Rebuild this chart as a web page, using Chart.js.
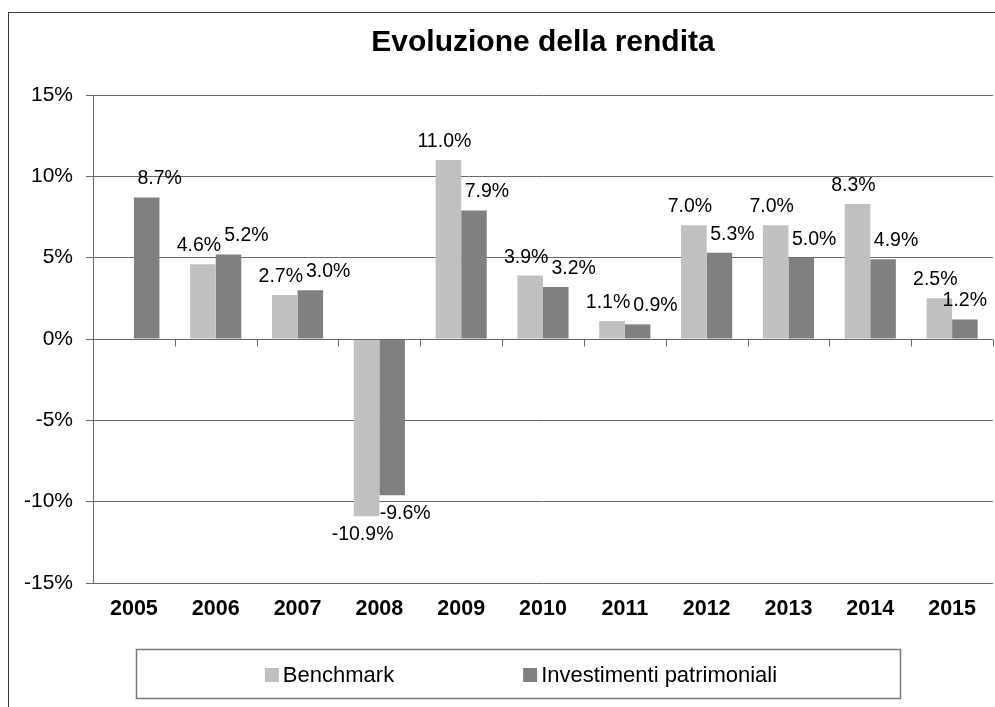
<!DOCTYPE html>
<html><head><meta charset="utf-8">
<script src="https://cdn.jsdelivr.net/npm/chart.js@4.4.0/dist/chart.umd.min.js"></script>
<style>html,body{margin:0;padding:0;background:#fff}#wrap{width:995px;height:707px;position:relative}</style>
</head><body><div id="wrap"><canvas id="c" width="995" height="707"></canvas></div>
<script>
const categories = ['2005','2006','2007','2008','2009','2010','2011','2012','2013','2014','2015'];
const benchmark = [null, 4.6, 2.7, -10.9, 11.0, 3.9, 1.1, 7.0, 7.0, 8.3, 2.5];
const investimenti = [8.7, 5.2, 3.0, -9.6, 7.9, 3.2, 0.9, 5.3, 5.0, 4.9, 1.2];
const yTicks = [-15, -10, -5, 0, 5, 10, 15];
const seriesNames = ['Benchmark', 'Investimenti patrimoniali'];
const chartTitle = 'Evoluzione della rendita';

const FONT = "'Liberation Sans', Arial, Helvetica, sans-serif";
const GRID = '#6a6a6a';

const decor = {
  id: 'decor',
  beforeDraw(chart) {
    const ctx = chart.ctx;
    ctx.save();
    ctx.fillStyle = '#fff';
    ctx.fillRect(0, 0, chart.width, chart.height);
    ctx.strokeStyle = '#3a3a3a';
    ctx.lineWidth = 1;
    ctx.strokeRect(8.5, 12.5, chart.width + 10, chart.height + 10);
    ctx.restore();
  },
  afterDatasetsDraw(chart) {
    const ctx = chart.ctx;
    const xs = chart.scales.x, ys = chart.scales.y;
    const y0 = Math.round(ys.getPixelForValue(0)) + 0.5;
    ctx.save();
    ctx.strokeStyle = GRID;
    ctx.lineWidth = 1;
    const n = categories.length;
    for (let i = 0; i <= n; i++) {
      let x;
      if (i === 0) x = chart.chartArea.left;
      else if (i === n) x = chart.chartArea.right;
      else x = (xs.getPixelForValue(i - 1) + xs.getPixelForValue(i)) / 2;
      x = Math.round(x) + 0.5;
      ctx.beginPath();
      ctx.moveTo(x, y0);
      ctx.lineTo(x, y0 + 7);
      ctx.stroke();
    }
    ctx.beginPath();
    ctx.moveTo(chart.chartArea.left, y0);
    ctx.lineTo(chart.chartArea.right, y0);
    ctx.stroke();

    // data labels with simple overlap avoidance per category
    ctx.font = '19.5px ' + FONT;
    ctx.fillStyle = '#000';
    ctx.textAlign = 'center';
    ctx.textBaseline = 'alphabetic';
    const dxs = [-4, 13];
    const capH = 14;
    const prevBox = {};
    chart.data.datasets.forEach((ds, di) => {
      const meta = chart.getDatasetMeta(di);
      meta.data.forEach((el, i) => {
        const v = ds.data[i];
        if (v === null || v === undefined) return;
        const txt = v.toFixed(1) + '%';
        const w = ctx.measureText(txt).width;
        let x = el.x + dxs[di];
        const y = v >= 0 ? el.y - 13 : el.y + 24;
        const pb = prevBox[i];
        if (pb) {
          const vOverlap = !(y < pb.top || y - capH > pb.bottom);
          if (vOverlap && x - w / 2 < pb.right + 3) x = pb.right + 3 + w / 2;
        }
        x = Math.min(x, chart.width - 8 - w / 2);
        ctx.fillText(txt, x, y);
        prevBox[i] = { right: x + w / 2, top: y - capH, bottom: y };
      });
    });
    ctx.restore();
  },
  afterDraw(chart) {
    const ctx = chart.ctx;
    ctx.save();
    const bx = 136, by = 649, bw = 764, bh = 49;
    ctx.strokeStyle = '#7a7a7a';
    ctx.lineWidth = 1.5;
    ctx.strokeRect(bx + 0.5, by + 0.5, bw, bh);
    ctx.font = '22px ' + FONT;
    const sq = 14, gapT = 4, gapItem = 129;
    const widths = chart.data.datasets.map(ds => sq + gapT + ctx.measureText(ds.label).width);
    const total = widths.reduce((a, b) => a + b, 0) + gapItem * (widths.length - 1);
    let x = bx + bw / 2 - total / 2 + 3;
    const base = by + 33;
    ctx.textBaseline = 'alphabetic';
    ctx.textAlign = 'left';
    chart.data.datasets.forEach((ds, i) => {
      ctx.fillStyle = ds.backgroundColor;
      ctx.fillRect(x, base - 14, sq, sq);
      ctx.fillStyle = '#000';
      ctx.fillText(ds.label, x + sq + gapT, base);
      x += widths[i] + gapItem;
    });
    ctx.restore();
  }
};

new Chart(document.getElementById('c'), {
  type: 'bar',
  data: {
    labels: categories,
    datasets: [
      { label: seriesNames[0], data: benchmark, backgroundColor: '#c0c0c0', borderWidth: 0 },
      { label: seriesNames[1], data: investimenti, backgroundColor: '#808080', borderWidth: 0 }
    ]
  },
  options: {
    responsive: false,
    animation: false,
    events: [],
    layout: { padding: { left: 8, right: 2, top: 0, bottom: 79 } },
    datasets: { bar: { categoryPercentage: 0.625, barPercentage: 1.0 } },
    plugins: {
      legend: { display: false },
      tooltip: { enabled: false },
      title: {
        display: true,
        text: chartTitle,
        fullSize: false,
        color: '#000',
        font: { family: FONT, size: 30, weight: 'bold', lineHeight: 1.2 },
        padding: { top: 25, bottom: 34 }
      }
    },
    scales: {
      x: {
        grid: { display: false, drawTicks: false },
        border: { display: false },
        ticks: { color: '#000', font: { family: FONT, size: 21.5, weight: 'bold' }, padding: 13.6, maxRotation: 0 },
        afterFit(s) { s.height = 45; }
      },
      y: {
        min: -15, max: 15,
        afterBuildTicks(s) { s.ticks = yTicks.map(v => ({ value: v })); },
        grid: { color: GRID, lineWidth: 1, tickLength: 7, drawTicks: true },
        border: { display: true, color: GRID, width: 1 },
        ticks: { color: '#000', font: { family: FONT, size: 21 }, padding: 13, callback: v => v + '%' },
        afterFit(s) { s.width = 85; }
      }
    }
  },
  plugins: [decor]
});
</script>
</body></html>
